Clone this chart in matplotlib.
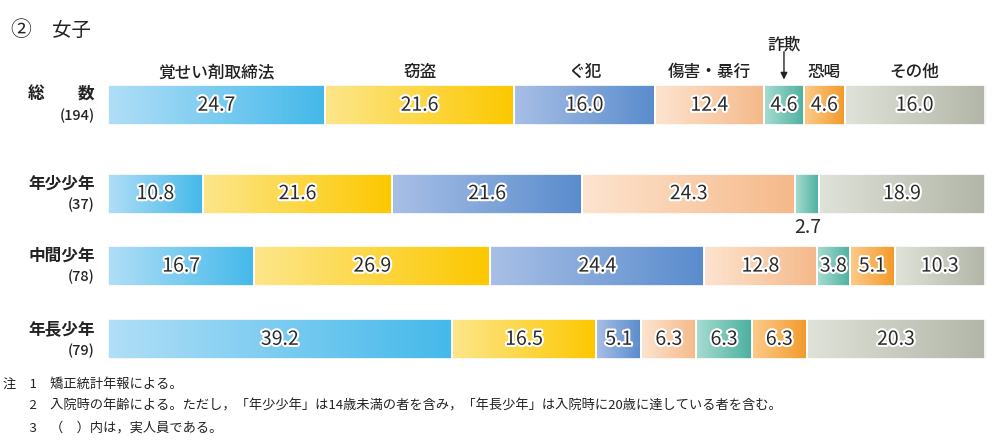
import matplotlib
matplotlib.use("Agg")
import matplotlib.pyplot as plt
import matplotlib.patheffects as pe
import numpy as np
from matplotlib.colors import LinearSegmentedColormap

plt.rcParams['font.family'] = ['Noto Sans CJK JP', 'DejaVu Sans']

categories = ["覚せい剤取締法", "窃盗", "ぐ犯", "傷害・暴行", "詐欺", "恐喝", "その他"]
row_names = ["総　　数", "年少少年", "中間少年", "年長少年"]
row_counts = ["(194)", "(37)", "(78)", "(79)"]
values = [
    [24.7, 21.6, 16.0, 12.4, 4.6, 4.6, 16.0],
    [10.8, 21.6, 21.6, 24.3, 2.7, 0.0, 18.9],
    [16.7, 26.9, 24.4, 12.8, 3.8, 5.1, 10.3],
    [39.2, 16.5, 5.1, 6.3, 6.3, 6.3, 20.3],
]
notes = [
    "注　1　矯正統計年報による。",
    "　　2　入院時の年齢による。ただし，「年少少年」は14歳未満の者を含み，「年長少年」は入院時に20歳に達している者を含む。",
    "　　3　（　）内は，実人員である。",
]

# light -> dark gradient for each category
grad_colors = [
    ("#b0def7", "#45b9ea"),
    ("#fde68a", "#fcc800"),
    ("#a8bfe6", "#5a8ccd"),
    ("#fde4cf", "#f5b98a"),
    ("#a6dcd0", "#4db0a0"),
    ("#fccb8a", "#f39a2a"),
    ("#dfe2d8", "#b2b6a8"),
]

row_y = [0, 1.22, 2.22, 3.23]
bar_h = 0.55

fig = plt.figure(figsize=(9.97, 4.45), dpi=100)
ax = fig.add_axes([108 / 997, 1 - 377 / 445, 877 / 997, 308 / 445])
stroke = [pe.withStroke(linewidth=3, foreground="white")]

for r, vals in enumerate(values):
    vals = np.array(vals)
    scaled = vals / vals.sum() * 100
    lefts = np.concatenate([[0], np.cumsum(scaled)[:-1]])
    y = row_y[r]
    for c, (v, w, left) in enumerate(zip(vals, scaled, lefts)):
        if v == 0:
            continue
        right = min(left + w, 100)
        w = right - left
        bar = ax.barh(y, w, left=left, height=bar_h, color=grad_colors[c][1],
                      edgecolor="none", zorder=2)[0]
        cmap = LinearSegmentedColormap.from_list("g%d" % c, grad_colors[c])
        img = ax.imshow(np.linspace(0, 1, 64).reshape(1, -1), cmap=cmap,
                        extent=[left, right, y + bar_h / 2, y - bar_h / 2],
                        aspect="auto", zorder=3, interpolation="bilinear")
        img.set_clip_path(bar)
        ax.add_patch(plt.Rectangle((left, y - bar_h / 2), w, bar_h, fill=False,
                                   edgecolor="white", linewidth=1.2, zorder=4,
                                   clip_on=False))
        cx = left + w / 2
        if w < 3:
            ax.annotate("%.1f" % v, (cx, y), xytext=(0, -24.5), textcoords="offset points",
                        ha="center", va="center", fontsize=14, color="#2a2a2a")
        else:
            ax.text(cx, y, "%.1f" % v, ha="center", va="center", fontsize=14,
                    color="#2a2a2a", zorder=5, path_effects=stroke)
        if r == 0:
            if categories[c] == "詐欺":
                ax.annotate(categories[c], (cx, y), xytext=(0, 44), textcoords="offset points",
                            ha="center", va="center", fontsize=12, fontweight="medium",
                            color="#222222")
                ax.annotate("", xy=(cx, y), xytext=(0, 38.5), textcoords="offset points",
                            arrowprops=dict(arrowstyle="-|>", color="#222222", lw=1,
                                            shrinkA=0, shrinkB=18.5, mutation_scale=10))
            else:
                ax.annotate(categories[c], (cx, y), xytext=(0, 24), textcoords="offset points",
                            ha="center", va="center", fontsize=12, fontweight="medium",
                            color="#222222")

    ax.annotate(row_names[r], (0, y), xytext=(-9.5, 7.5), textcoords="offset points",
                ha="right", va="center", fontsize=12, fontweight="bold", color="#222222",
                annotation_clip=False)
    ax.annotate(row_counts[r], (0, y), xytext=(-9.5, -8), textcoords="offset points",
                ha="right", va="center", fontsize=10.5, fontweight="medium", color="#222222",
                annotation_clip=False)

ax.set_xlim(0, 100)
ax.set_ylim(3.75, -0.5)
ax.axis("off")

fig.text(10 / 997, 1 - 30 / 445, "②", fontsize=15, va="center", ha="left", color="#222222")
fig.text(52 / 997, 1 - 30 / 445, "女子", fontsize=14, va="center", ha="left", color="#222222")

for i, line in enumerate(notes):
    fig.text(3 / 997, 1 - (384 + 22 * i) / 445, line, fontsize=9.5, va="center", ha="left",
             color="#222222")

fig.savefig("out.png", dpi=100)
